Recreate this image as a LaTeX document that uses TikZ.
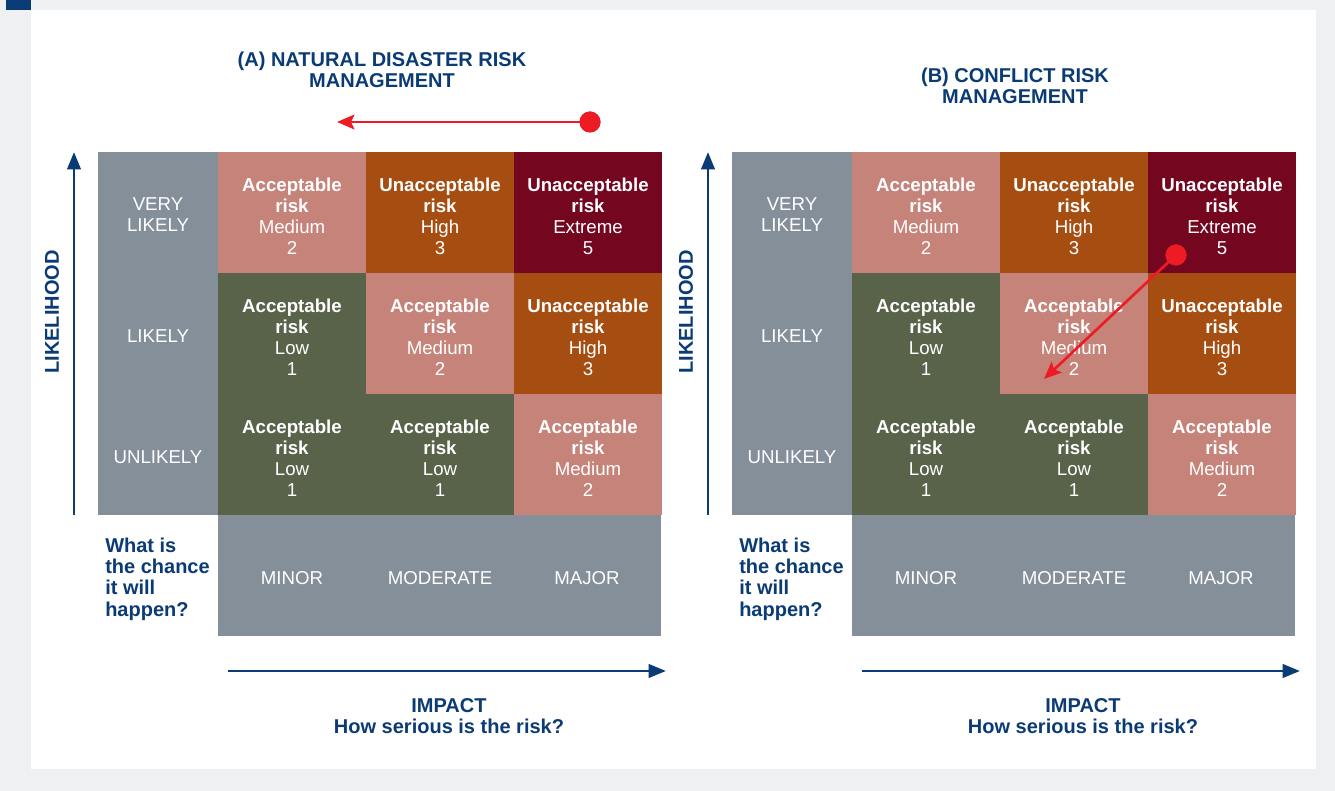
\documentclass[tikz,border=0pt]{standalone}
\usepackage{fontspec}
\setmainfont{Liberation Sans}
\usetikzlibrary{arrows.meta}
\definecolor{navy}{HTML}{0B3B74}
\definecolor{riskgray}{HTML}{858F9A}
\definecolor{riskpink}{HTML}{C5837A}
\definecolor{riskorange}{HTML}{A64D12}
\definecolor{riskmaroon}{HTML}{740620}
\definecolor{riskgreen}{HTML}{59634A}
\definecolor{riskred}{HTML}{ED1C24}
\definecolor{pagegray}{HTML}{EFF0F2}
\tikzset{
  cell/.style={inner sep=0pt,minimum width=111pt,minimum height=90.75pt,align=center,text=white,
    font=\fontsize{14}{15.75}\selectfont},
  cellfill/.style={fill=#1,inner sep=0pt,minimum width=111pt,minimum height=90.75pt},
  graylabel/.style={text=white,align=center,font=\fontsize{14}{15.75}\selectfont},
  navytext/.style={text=navy,font=\bfseries\fontsize{15}{16}\selectfont},
  axisarrow/.style={navy,line width=2.2pt,-{Triangle[length=13pt,width=10pt]}},
  movearrow/.style={riskred,line width=2pt,-{Stealth[length=13pt,width=11pt,inset=2.5pt]}},
  movedot/.style={circle,fill=riskred,inner sep=0pt,minimum size=15.75pt}
}
\begin{document}
\begin{tikzpicture}[x=0.75pt,y=-0.75pt]
 \useasboundingbox (0,0) rectangle (1335,791);
 \fill[pagegray] (0,0) rectangle (1335,791);
 \fill[white] (31,10) rectangle (1316,769);
 \fill[navy] (6,0) rectangle (31,10);
 \foreach \p/\dx in {a/0,b/634}{
  % grey header blocks
  \node[fill=riskgray,inner sep=0pt,minimum width=90pt,minimum height=272.25pt] (\p lik) at ({\dx+158},333.5) {};
  \node[fill=riskgray,inner sep=0pt,minimum width=332.25pt,minimum height=90.75pt] (\p imp) at ({\dx+439.5},575.5) {};
  % risk cells
  \foreach \i/\j/\fc/\kind/\lvl/\n in {1/1/riskpink/Acceptable/Medium/2,1/2/riskorange/Unacceptable/High/3,
     1/3/riskmaroon/Unacceptable/Extreme/5,2/1/riskgreen/Acceptable/Low/1,2/2/riskpink/Acceptable/Medium/2,
     2/3/riskorange/Unacceptable/High/3,3/1/riskgreen/Acceptable/Low/1,3/2/riskgreen/Acceptable/Low/1,
     3/3/riskpink/Acceptable/Medium/2}{
   \node[cellfill=\fc] (\p c\i\j) at ({\dx+292+148*(\j-1)},{212.5+121*(\i-1)}) {};
   \node[cell,minimum height=0pt] (\p t\i\j) at ([yshift=-2.5pt]\p c\i\j.center)
     {\textbf{\kind}\\\textbf{risk}\\\lvl\\\n};}
  % row and column labels
  \node[graylabel] (\p r1) at ({\dx+158},215) {VERY\\LIKELY};
  \node[graylabel] (\p r2) at ({\dx+158},336) {LIKELY};
  \node[graylabel] (\p r3) at ({\dx+158},457) {UNLIKELY};
  \node[graylabel] (\p k1) at ({\dx+292},578) {MINOR};
  \node[graylabel] (\p k2) at ({\dx+440},578) {MODERATE};
  \node[graylabel] (\p k3) at ({\dx+587},578) {MAJOR};
  \node[navytext,anchor=west,align=left,inner sep=0pt] (\p q) at ({\dx+105},579)
    {What is\\the chance\\it will\\happen?};
  % axes
  \coordinate (\p ylo) at ({\dx+74},515);
  \coordinate (\p yhi) at ({\dx+74},152);
  \coordinate (\p xlo) at ({\dx+228},671);
  \coordinate (\p xhi) at ({\dx+666},671);
  \draw[axisarrow] (\p ylo) -- (\p yhi);
  \draw[axisarrow] (\p xlo) -- (\p xhi);
  \node[navytext,rotate=90] (\p ylab) at ({\dx+52},312) {LIKELIHOOD};
  \node[navytext,align=center] (\p xlab) at ({\dx+449},716) {IMPACT\\How serious is the risk?};
 }
 % titles
 \node[navytext,align=center] (atitle) at (382,70) {(A) NATURAL DISASTER RISK\\MANAGEMENT};
 \node[navytext,align=center] (btitle) at (1015,86) {(B) CONFLICT RISK\\MANAGEMENT};
 % movements
 \coordinate (atip) at (337,122);
 \node[movedot] (adot) at (590,122) {};
 \draw[movearrow] (adot.center) -- (atip);
 \coordinate (btip) at (1044,379);
 \node[movedot] (bdot) at (1176,255) {};
 \draw[movearrow] (bdot.center) -- (btip);
 \node[movedot] at (adot) {};
 \node[movedot] at (bdot) {};
\end{tikzpicture}
\end{document}
